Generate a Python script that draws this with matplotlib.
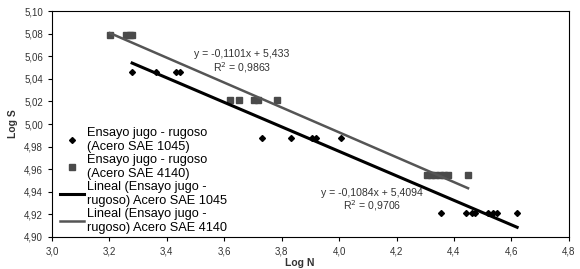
import numpy as np
import matplotlib
matplotlib.use("Agg")
import matplotlib.pyplot as plt

plt.rcParams['font.family'] = ['Liberation Sans', 'DejaVu Sans']

# Acero SAE 1045 (diamonds)
n_1045 = [3.279, 3.362, 3.431, 3.446, 3.732, 3.833, 3.907, 3.920, 4.007,
          4.355, 4.443, 4.463, 4.474, 4.519, 4.537, 4.549, 4.620]
s_1045 = [5.046, 5.046, 5.046, 5.046, 4.988, 4.988, 4.988, 4.988, 4.988,
          4.921, 4.921, 4.921, 4.921, 4.921, 4.921, 4.921, 4.921]

# Acero SAE 4140 (squares)
n_4140 = [3.202, 3.258, 3.270, 3.279, 3.620, 3.652, 3.702, 3.716, 3.784,
          4.305, 4.320, 4.335, 4.350, 4.365, 4.378, 4.449]
s_4140 = [5.079, 5.079, 5.079, 5.079, 5.021, 5.021, 5.021, 5.021, 5.021,
          4.955, 4.955, 4.955, 4.955, 4.955, 4.955, 4.955]

# trend line coefficients as printed on the chart
fit_1045 = (-0.1084, 5.4094)
fit_4140 = (-0.1101, 5.433)

labels = ["Ensayo jugo - rugoso\n(Acero SAE 1045)",
          "Ensayo jugo - rugoso\n(Acero SAE 4140)",
          "Lineal (Ensayo jugo -\nrugoso) Acero SAE 1045",
          "Lineal (Ensayo jugo -\nrugoso) Acero SAE 4140"]

xticks = [3.0, 3.2, 3.4, 3.6, 3.8, 4.0, 4.2, 4.4, 4.6, 4.8]
yticks = [4.90, 4.92, 4.94, 4.96, 4.98, 5.00, 5.02, 5.04, 5.06, 5.08, 5.10]

fig = plt.figure(figsize=(5.8, 2.69), dpi=100)
ax = fig.add_axes([0.0897, 0.119, 0.891, 0.840])

grey = '#555555'
p1, = ax.plot(n_1045, s_1045, 'D', color='black', markersize=3, linestyle='none')
p2, = ax.plot(n_4140, s_4140, 's', color='#4a4a4a', markersize=5, linestyle='none')

xl = np.array([min(n_1045), max(n_1045)])
l1, = ax.plot(xl, fit_1045[0] * xl + fit_1045[1], color='black', lw=2.2)
xl2 = np.array([min(n_4140), max(n_4140)])
l2, = ax.plot(xl2, fit_4140[0] * xl2 + fit_4140[1], color=grey, lw=1.8)

eq_kw = dict(ha='center', va='center', fontsize=7.6, color='#333333')
ax.text(3.662, 5.062, "y = -0,1101x + 5,433", **eq_kw)
ax.text(3.662, 5.0495, "R$^2$ = 0,9863", **eq_kw)
ax.text(4.115, 4.939, "y = -0,1084x + 5,4094", **eq_kw)
ax.text(4.115, 4.9275, "R$^2$ = 0,9706", **eq_kw)

ax.set_xlim(3.0, 4.8)
ax.set_ylim(4.90, 5.10)
ax.set_xticks(xticks)
ax.set_yticks(yticks)
ax.set_xticklabels([f"{v:.1f}".replace('.', ',') for v in xticks])
ax.set_yticklabels([f"{v:.2f}".replace('.', ',') for v in yticks])
ax.tick_params(labelsize=7, colors='black', labelcolor='#333333', length=3, width=0.8)
for sp in ax.spines.values():
    sp.set_linewidth(0.8)

ax.set_xlabel("Log N", fontsize=7.5, fontweight='bold', color='#333333')
ax.xaxis.set_label_coords(0.48, -0.095)
ax.set_ylabel("Log S", fontsize=7.5, fontweight='bold', color='#333333', labelpad=4)

ax.legend([p1, p2, l1, l2], labels, loc='upper left', bbox_to_anchor=(0.0, 0.52),
          frameon=False, fontsize=9.2, handlelength=1.9, handletextpad=0.2,
          labelspacing=0.1, borderaxespad=0.2)

fig.savefig("out.png", dpi=100)
